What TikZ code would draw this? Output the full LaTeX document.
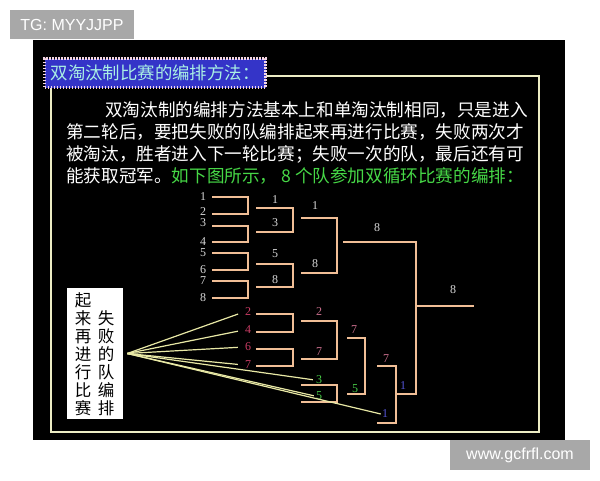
\documentclass[tikz,border=0pt]{standalone}
\usepackage{fontspec}
\newfontfamily\cjk{Noto Sans CJK SC}
\newfontfamily\numfont{Liberation Serif}
\newfontfamily\wmfont{Liberation Sans}
\usetikzlibrary{positioning}
\definecolor{panelgrey}{RGB}{168,168,168}
\definecolor{frameline}{RGB}{236,236,196}
\definecolor{titleblue}{RGB}{52,52,200}
\definecolor{titlerim}{RGB}{180,100,150}
\definecolor{titledot}{RGB}{245,215,230}
\definecolor{titletext}{RGB}{170,240,228}
\definecolor{bodygreen}{RGB}{70,215,70}
\definecolor{bracketline}{RGB}{240,190,150}
\definecolor{winlab}{RGB}{215,215,215}
\definecolor{redlab}{RGB}{200,60,100}
\definecolor{pinklab}{RGB}{200,110,140}
\definecolor{greenlab}{RGB}{70,200,70}
\definecolor{bluelab}{RGB}{85,85,215}
\definecolor{pointer}{RGB}{232,232,165}

\begin{document}
\begin{tikzpicture}[x=1pt,y=-1pt,
						bracket/.style={draw=bracketline,line width=1.9pt},
						num/.style={inner sep=1pt,font=\numfont\fontsize{12}{12}\selectfont},
						wl/.style={num,text=winlab},
						rl/.style={num,text=redlab},
						pl/.style={num,text=pinklab},
						gl/.style={num,text=greenlab},
						bl/.style={num,text=bluelab},
						ptr/.style={draw=pointer,line width=1.2pt},
						body/.style={anchor=west,inner sep=0pt,text=white,font=\cjk\fontsize{17.6}{22}\selectfont},
						tag/.style={fill=panelgrey,text=white,inner sep=0pt,font=\wmfont\fontsize{16}{16}\selectfont},
						titlebox/.style={fill=titleblue,draw=titledot,line width=3pt,dash pattern=on 1.6pt off 1.4pt,
							preaction={draw=titlerim,line width=3pt},minimum width=221pt,minimum height=29pt,inner sep=0pt,
							text=titletext,font=\cjk\fontsize{17.4}{17.4}\selectfont},
						notebox/.style={fill=white,minimum width=56pt,minimum height=131pt,inner sep=0pt},
						notecol/.style={align=center,inner sep=0pt,text=black,font=\cjk\fontsize{16.5}{18}\selectfont}]
		\fill[white] (0,0) rectangle (600,480);
		\useasboundingbox (0,0) rectangle (600,480);
		\fill[black] (33,40) rectangle (565,440);
		\node[tag,minimum width=124pt,minimum height=29pt]	(tg)	at (72,24.5)	{TG: MYYJJPP};
		\node[tag,minimum width=140pt,minimum height=30pt]	(www)	at (520,455)	{www.gcfrfl.com};

		\draw[draw=frameline,line width=1.8pt] (51,76) rectangle (539,432);
		\node[titlebox]	(title)	at (155,73)	{双淘汰制比赛的编排方法：};
		\node[body]	(line1)	at (105,110)	{双淘汰制的编排方法基本上和单淘汰制相同，只是进入};
		\node[body]	(line2)	at (66,132)	{第二轮后，要把失败的队编排起来再进行比赛，失败两次才};
		\node[body]	(line3)	at (66,154)	{被淘汰，胜者进入下一轮比赛；失败一次的队，最后还有可};
		\node[body]	(line4)	at (66,176)	{能获取冠军。\textcolor{bodygreen}{如下图所示， 8 个队参加双循环比赛的编排：}};

		\draw[bracket] (212,197) -| (248,214) -- (212,214);
		\draw[bracket] (212,226) -| (248,242) -- (212,242);
		\draw[bracket] (212,253) -| (248,270) -- (212,270);
		\draw[bracket] (212,281) -| (248,298) -- (212,298);
		\draw[bracket] (256,208) -| (293,232) -- (256,232);
		\draw[bracket] (256,264) -| (293,287) -- (256,287);
		\draw[bracket] (301,218) -| (337,273) -- (301,273);
		\draw[bracket] (343,242) -| (416,394) -- (396,394);
		\draw[bracket] (416,306) -- (474,306);
		\draw[bracket] (256,314) -| (293,332) -- (256,332);
		\draw[bracket] (256,349) -| (293,366) -- (256,366);
		\draw[bracket] (301,321) -| (337,359) -- (301,359);
		\draw[bracket] (301,385) -| (337,402) -- (301,402);
		\draw[bracket] (347,338) -| (365,394) -- (347,394);
		\draw[bracket] (377,366) -| (396,423) -- (377,423);

		\node[wl]	(w1)	at (203,197)	{1};
		\node[wl]	(w2)	at (203,212)	{2};
		\node[wl]	(w3)	at (203,223)	{3};
		\node[wl]	(w4)	at (203,242)	{4};
		\node[wl]	(w5)	at (203,253)	{5};
		\node[wl]	(w6)	at (203,270)	{6};
		\node[wl]	(w7)	at (203,281)	{7};
		\node[wl]	(w8)	at (203,298)	{8};
		\node[wl]	(a1)	at (275,200)	{1};
		\node[wl]	(a3)	at (275,223)	{3};
		\node[wl]	(a5)	at (275,254)	{5};
		\node[wl]	(a8)	at (275,280)	{8};
		\node[wl]	(b1)	at (315,206)	{1};
		\node[wl]	(b8)	at (315,264)	{8};
		\node[wl]	(c8)	at (377,228)	{8};
		\node[wl]	(f8)	at (453,290)	{8};
		\node[rl]	(l2)	at (248,312)	{2};
		\node[rl]	(l4)	at (248,330)	{4};
		\node[rl]	(l6)	at (248,347)	{6};
		\node[rl]	(l7)	at (248,365)	{7};
		\node[pl]	(m2)	at (319,312)	{2};
		\node[pl]	(m7)	at (319,352)	{7};
		\node[gl]	(g3)	at (319,380)	{3};
		\node[gl]	(g5)	at (319,396)	{5};
		\node[pl]	(n7)	at (354,330)	{7};
		\node[gl]	(n5)	at (355,389)	{5};
		\node[pl]	(p7)	at (386,359)	{7};
		\node[bl]	(p1)	at (385,414)	{1};
		\node[bl]	(q1)	at (403,386)	{1};

		\node[notebox]	(note)	at (95,353.5)	{};
		\node[notecol]	(noteL)	at (83,354)	{起\\来\\再\\进\\行\\比\\赛};
		\node[notecol]	(noteR)	at (106,363)	{失\\败\\的\\队\\编\\排};
		\coordinate[right=4pt of note]	(hub);

		\draw[ptr,shorten >=6pt] (hub) -- (l2.west);
		\draw[ptr,shorten >=6pt] (hub) -- (l4.west);
		\draw[ptr,shorten >=6pt] (hub) -- (l6.west);
		\draw[ptr,shorten >=6pt] (hub) -- (l7.west);
		\draw[ptr,shorten >=2pt] (hub) -- (g3.west);
		\draw[ptr,shorten >=1pt] (hub) -- (g5.west);
		\draw[ptr] (hub) -- (p1.west);
	\end{tikzpicture}
\end{document}
